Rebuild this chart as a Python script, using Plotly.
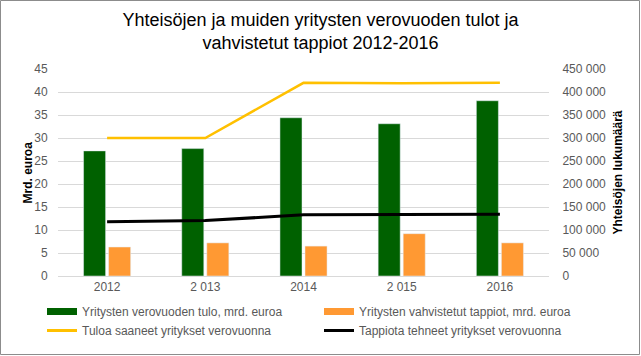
import plotly.graph_objects as go

years = ["2012", "2 013", "2014", "2 015", "2016"]
income_bn = [27.2, 27.7, 34.4, 33.1, 38.1]
losses_bn = [6.3, 7.2, 6.5, 9.2, 7.2]
firms_income = [300000, 300000, 420000, 419000, 420000]
firms_loss = [118000, 120500, 132900, 134400, 134500]

names = [
    "Yritysten verovuoden tulo, mrd. euroa",
    "Yritysten vahvistetut tappiot, mrd. euroa",
    "Tuloa saaneet yritykset verovuonna",
    "Tappiota tehneet yritykset verovuonna",
]
y_title = "Mrd. euroa"
y2_title = "Yhteisöjen lukumäärä"

GREEN = "#006100"
ORANGE = "#FF9933"
YELLOW = "#FFC000"
BLACK = "#000000"

W, H = 641, 356
L, R, T, B = 58, 92, 69, 80
pw = W - L - R
ph = H - T - B

fig = go.Figure()
fig.add_trace(go.Bar(x=years, y=income_bn, marker_color=GREEN, name=names[0], showlegend=False))
fig.add_trace(go.Bar(x=years, y=losses_bn, marker_color=ORANGE, name=names[1], showlegend=False))
fig.add_trace(go.Scatter(x=years, y=firms_income, yaxis="y2", mode="lines",
                         line=dict(color=YELLOW, width=2.5), name=names[2], showlegend=False))
fig.add_trace(go.Scatter(x=years, y=firms_loss, yaxis="y2", mode="lines",
                         line=dict(color=BLACK, width=3), name=names[3], showlegend=False))

# legend-only entries (Excel style swatches), two columns via two legends
for nm, col, w, lg in [(names[0], GREEN, 7, "legend"), (names[2], YELLOW, 3, "legend"),
                       (names[1], ORANGE, 7, "legend2"), (names[3], BLACK, 3, "legend2")]:
    fig.add_trace(go.Scatter(x=[None], y=[None], mode="lines", line=dict(color=col, width=w),
                             name=nm, showlegend=True, hoverinfo="skip", legend=lg))

# chart border
fig.add_shape(type="rect", xref="paper", yref="paper",
              x0=-(L - 0.5) / pw, x1=1 + (R - 1.5) / pw, y0=-(B - 1.5) / ph, y1=1 + (T - 0.5) / ph,
              line=dict(color="#8c8c8c", width=1), layer="below")

# axis titles
fig.add_annotation(text="<b>" + y_title + "</b>", xref="paper", yref="paper",
                   x=-(L - 27) / pw, y=0.5, textangle=-90, showarrow=False,
                   xanchor="center", yanchor="middle", font=dict(size=12, color="#000000"))
fig.add_annotation(text="<b>" + y2_title + "</b>", xref="paper", yref="paper",
                   x=1 + (617 - (L + pw)) / pw, y=0.5, textangle=-90, showarrow=False,
                   xanchor="center", yanchor="middle", font=dict(size=12, color="#000000"))

legend_common = dict(orientation="v", xanchor="left", yanchor="top", xref="container", yref="container",
                     itemwidth=30, tracegroupgap=0, font=dict(size=12, color="#595959"),
                     bgcolor="rgba(0,0,0,0)")

fig.update_layout(
    width=W, height=H,
    margin=dict(l=L, r=R, t=T, b=B, autoexpand=False),
    paper_bgcolor="white", plot_bgcolor="white",
    font=dict(family="Liberation Sans, Arial, sans-serif", size=12, color="#595959"),
    separators=", ",
    title=dict(text="Yhteisöjen ja muiden yritysten verovuoden tulot ja<br>vahvistetut tappiot 2012-2016",
               x=0.5, xref="container", xanchor="center", y=0.927, yanchor="top",
               font=dict(size=18, color="#000000", family="Liberation Sans, Arial, sans-serif")),
    barmode="group", bargap=0.49, bargroupgap=0.12,
    xaxis=dict(type="category", showgrid=False, showline=True, linecolor="#d9d9d9",
               ticks="", tickfont=dict(size=12, color="#595959")),
    yaxis=dict(range=[0, 45], dtick=5, showgrid=True, gridcolor="#d9d9d9", gridwidth=1,
               zeroline=False, showline=False, ticks="outside", ticklen=7, tickcolor="rgba(0,0,0,0)",
               tickfont=dict(size=12, color="#595959")),
    yaxis2=dict(range=[0, 450000], dtick=50000, overlaying="y", side="right", showgrid=False,
                zeroline=False, showline=False, ticks="outside", ticklen=10, tickcolor="rgba(0,0,0,0)",
                tickformat=",d", tickfont=dict(size=12, color="#595959")),
    legend=dict(x=42 / W, y=1 - 297 / H, **legend_common),
    legend2=dict(x=319 / W, y=1 - 297 / H, **legend_common),
)

fig.write_html("out.html", post_script="document.body.style.margin='0';",
               config={"displayModeBar": False})
